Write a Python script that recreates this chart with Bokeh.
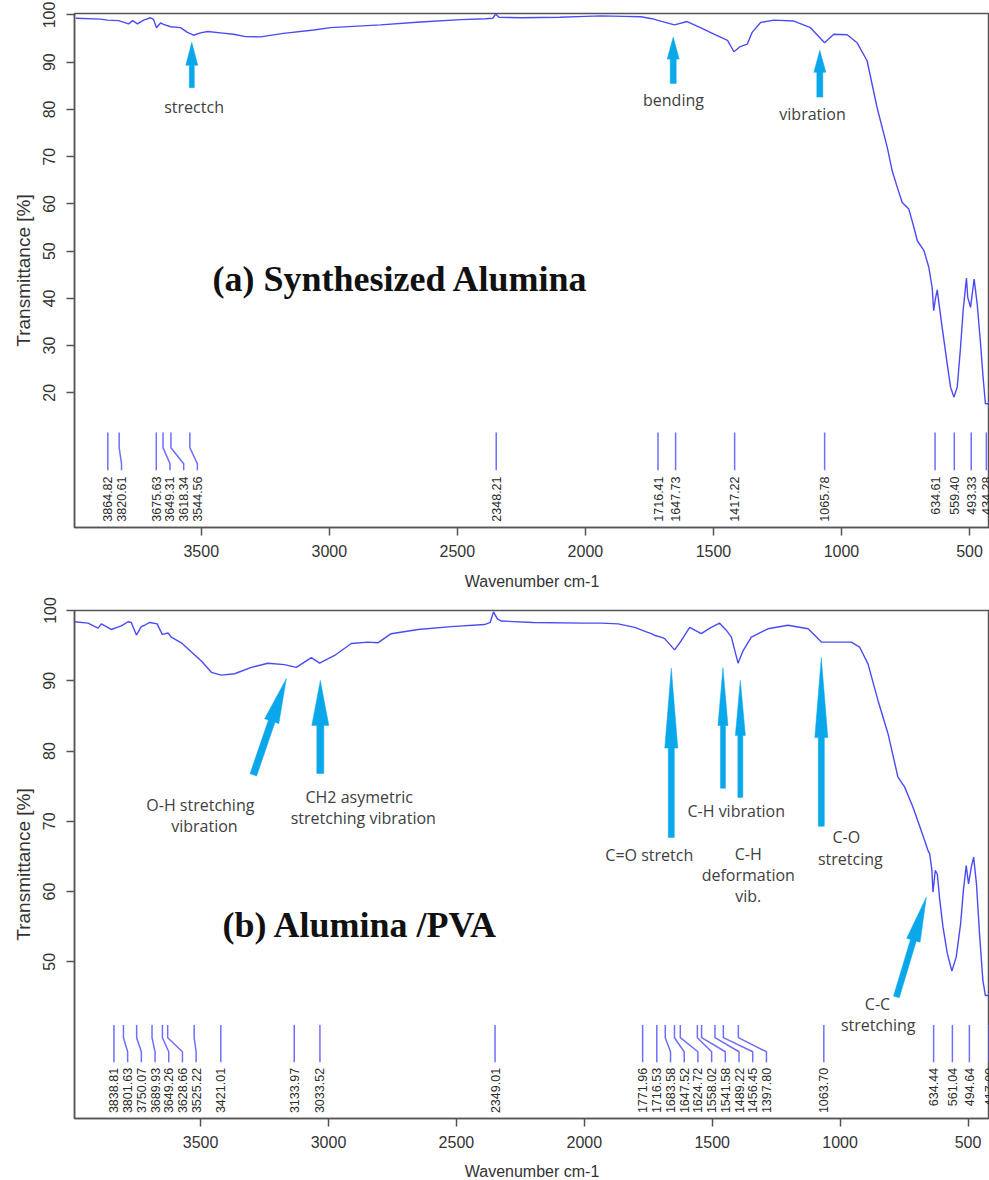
import math
from bokeh.plotting import figure
from bokeh.layouts import column
from bokeh.models import Range1d, FixedTicker, Title
from bokeh.core.properties import value
from bokeh.embed import file_html
from bokeh.resources import INLINE

# ---------------- data ----------------
a_wn = [3990, 3893, 3866, 3823, 3784, 3768, 3749, 3725, 3698, 3686, 3675, 3659, 3647, 3620,
        3581, 3554, 3530, 3503, 3475, 3425, 3374, 3327, 3268, 3179, 3061, 2995, 2800, 2644,
        2488, 2390, 2362, 2350, 2338, 2250, 2100, 2000, 1940, 1850, 1784, 1740, 1706, 1652,
        1603, 1551, 1500, 1445, 1420, 1395, 1368, 1349, 1316, 1264, 1186, 1121, 1066, 1030,
        978, 939, 900, 861, 821, 802, 782, 763, 737, 717, 704, 678, 659, 646, 640, 633, 626,
        620, 607, 587, 574, 561, 548, 535, 525, 512, 507, 496, 482, 470, 457, 447, 438, 422]
a_tr = [99.3, 99.1, 98.9, 98.8, 98.1, 98.8, 98.1, 98.9, 99.4, 99.0, 97.3, 98.3, 98.0, 97.5,
        97.3, 96.3, 95.7, 96.2, 96.5, 96.2, 95.9, 95.4, 95.35, 96.1, 96.8, 97.3, 97.9, 98.5,
        99.0, 99.2, 99.3, 100.2, 99.5, 99.4, 99.5, 99.7, 99.8, 99.7, 99.6, 99.2, 98.7, 97.9,
        98.6, 97.3, 96.0, 94.6, 92.2, 93.3, 93.8, 96.3, 98.4, 98.9, 98.7, 97.3, 94.1, 95.9,
        95.8, 94.1, 90.3, 80.4, 71.9, 67.0, 63.5, 60.3, 58.9, 55.0, 52.2, 50.1, 46.6, 42.3,
        37.4, 40.0, 41.8, 39.2, 33.9, 26.1, 21.2, 19.1, 21.2, 29.7, 37.4, 44.3, 40.2, 38.1,
        44.1, 38.8, 30.4, 23.3, 17.7, 17.7]

b_wn = [3992, 3940, 3901, 3888, 3849, 3810, 3784, 3771, 3751, 3732, 3719, 3699, 3670, 3650,
        3627, 3615, 3575, 3536, 3497, 3458, 3419, 3367, 3302, 3237, 3172, 3126, 3067, 3035,
        2976, 2911, 2846, 2807, 2755, 2650, 2520, 2390, 2368, 2355, 2340, 2324, 2200, 2000,
        1933, 1868, 1803, 1760, 1738, 1720, 1700, 1686, 1647, 1621, 1588, 1543, 1504, 1471,
        1445, 1425, 1399, 1379, 1347, 1282, 1204, 1125, 1073, 1021, 956, 924, 891, 852, 813,
        774, 748, 715, 683, 670, 657, 650, 641, 637, 628, 620, 611, 598, 581, 563, 546, 529,
        518, 507, 498, 487, 478, 467, 455, 442, 432, 413]
b_tr = [98.4, 98.2, 97.5, 98.1, 97.3, 97.8, 98.4, 98.3, 96.5, 97.7, 97.9, 98.3, 98.1, 96.6,
        96.8, 96.2, 95.4, 94.1, 92.8, 91.2, 90.8, 91.0, 91.9, 92.5, 92.3, 91.9, 93.3, 92.5,
        93.6, 95.3, 95.5, 95.4, 96.7, 97.3, 97.7, 98.0, 98.3, 99.8, 98.8, 98.5, 98.3, 98.2,
        98.2, 98.1, 97.6, 97.0, 96.7, 96.4, 96.2, 96.0, 94.4, 95.7, 97.6, 96.7, 97.6, 98.2,
        97.2, 96.2, 92.5, 94.3, 96.2, 97.4, 97.9, 97.4, 95.5, 95.5, 95.5, 94.8, 92.4, 87.2,
        82.5, 76.3, 74.9, 72.0, 68.7, 67.3, 65.9, 65.4, 63.0, 59.9, 63.0, 62.5, 59.0, 55.0,
        51.2, 48.7, 50.7, 55.4, 60.2, 63.7, 61.1, 63.5, 64.9, 61.1, 54.0, 47.4, 45.2, 45.2]

a_peaks = [3864.82, 3820.61, 3675.63, 3649.31, 3618.34, 3544.56, 2348.21, 1716.41, 1647.73,
           1417.22, 1065.78, 634.61, 559.40, 493.33, 434.28]
b_peaks = [3838.81, 3801.63, 3750.07, 3689.93, 3649.26, 3628.66, 3525.22, 3421.01, 3133.97,
           3033.52, 2349.01, 1771.96, 1716.53, 1683.58, 1647.52, 1624.72, 1558.02, 1541.58,
           1489.22, 1456.45, 1397.80, 1063.70, 634.44, 561.04, 494.64, 417.00]

x_ticks = [3500, 3000, 2500, 2000, 1500, 1000, 500]
a_yticks = [20, 30, 40, 50, 60, 70, 80, 90, 100]
b_yticks = [50, 60, 70, 80, 90, 100]
x_title = "Wavenumber cm-1"
y_title = "Transmittance [%]"

# annotations: (text, x, y)
a_notes = [("strectch", 3528, 80.6), ("bending", 1656, 81.9), ("vibration", 1113, 79.1)]
a_title = ("(a) Synthesized Alumina", 2722, 44.2)
# arrows: (x_tip, y_tip, x_tail, y_tail, head_len_px, head_w_px, shaft_w_px)
a_arrows = [(3537, 94.2, 3537, 84.6, 23, 12, 5),
            (1657, 95.3, 1657, 85.5, 22, 12, 6),
            (1084.5, 92.5, 1084.5, 82.6, 22, 12, 6)]

b_notes = [("O-H stretching", 3501, 72.3), ("vibration", 3485, 69.3),
           ("CH2 asymetric", 2880, 73.4), ("stretching vibration", 2864, 70.4),
           ("C=O stretch", 1746, 65.2), ("C-H vibration", 1406, 71.4),
           ("C-H", 1359, 65.3), ("deformation", 1359, 62.3), ("vib.", 1359, 59.35),
           ("C-O", 976, 67.7), ("stretcing", 960, 64.6),
           ("C-C", 854, 44.0), ("stretching", 851, 41.0)]
b_title = ("(b) Alumina /PVA", 2876, 55.2)
b_arrows = [(3165, 90.3, 3294, 76.6, 45, 15, 7),
            (3032, 90.05, 3032, 76.8, 45, 17, 7),
            (1660, 91.8, 1660, 67.7, 80, 13, 6),
            (1458, 91.9, 1458, 74.7, 58, 10, 5),
            (1390, 90.05, 1390, 73.4, 55, 10, 5),
            (1073.5, 93.3, 1073.5, 69.3, 80, 13, 6),
            (663, 59.2, 780, 45.0, 45, 14, 6)]

CURVE = "#4b4bf6"
PEAK = "#6e6eff"
ARROW = "#0aa8ea"
AXIS = "#555555"
TXT = "#333333"


def make_panel(wn, tr, peaks, yticks, xr, yr, fw, fh, borders, peak_y, lab_gap_px,
               notes, title, arrows, xlab_standoff, ylab_shift):
    top, bottom = borders
    p = figure(frame_width=fw, frame_height=fh, x_range=Range1d(*xr), y_range=Range1d(*yr),
               output_backend="svg", toolbar_location=None,
               min_border_left=74, min_border_right=0, min_border_top=top,
               min_border_bottom=bottom)
    p.background_fill_color = "white"
    p.border_fill_color = "white"
    p.outline_line_color = AXIS
    p.outline_line_width = 1.5
    p.xgrid.visible = False
    p.ygrid.visible = False

    kx = fw / (xr[0] - xr[1])   # px per wavenumber (to the right)
    ky = fh / (yr[1] - yr[0])   # px per % (upward)

    # spectrum
    p.line(wn, tr, line_color=CURVE, line_width=1.4)

    # peak markers with spread labels
    order = sorted(peaks, reverse=True)
    gap = lab_gap_px / kx
    labx = []
    prev = None
    for w in order:
        pos = w if prev is None else min(w, prev - gap)
        labx.append(pos)
        prev = pos
    y0, y1, y2, y3, ylab = peak_y
    xs = [[w, w, lx, lx] for w, lx in zip(order, labx)]
    ys = [[y0, y1, y2, y3] for _ in order]
    p.multi_line(xs, ys, line_color=PEAK, line_width=1.5)
    p.text(x=labx, y=[ylab] * len(order), text=["%.2f" % w for w in order],
           angle=math.pi / 2, text_align="right", text_baseline="middle",
           text_font=value("Liberation Sans"), text_font_size="12.5px", text_color="#2a2a2a")

    # note texts
    p.text(x=[n[1] for n in notes], y=[n[2] for n in notes], text=[n[0] for n in notes],
           text_align="center", text_baseline="middle", text_font=value("Open Sans"),
           text_font_size="16px", text_color="#404040")
    p.text(x=[title[1]], y=[title[2]], text=[title[0]], text_align="center",
           text_baseline="middle", text_font=value("Liberation Serif"),
           text_font_style="bold", text_font_size="36px", text_color="#111111")

    # arrows as polygons (built in pixel space, converted back to data)
    pxs, pys = [], []
    for (xt, yt, xb, yb, hl, hw, sw) in arrows:
        X1, Y1 = -xt * kx, yt * ky
        X0, Y0 = -xb * kx, yb * ky
        L = math.hypot(X1 - X0, Y1 - Y0)
        ux, uy = (X1 - X0) / L, (Y1 - Y0) / L
        nx, ny = -uy, ux
        NX, NY = X1 - ux * hl, Y1 - uy * hl
        pts = [(X0 + nx * sw / 2, Y0 + ny * sw / 2),
               (NX + nx * sw / 2, NY + ny * sw / 2),
               (NX + nx * hw / 2, NY + ny * hw / 2),
               (X1, Y1),
               (NX - nx * hw / 2, NY - ny * hw / 2),
               (NX - nx * sw / 2, NY - ny * sw / 2),
               (X0 - nx * sw / 2, Y0 - ny * sw / 2)]
        pxs.append([-q[0] / kx for q in pts])
        pys.append([q[1] / ky for q in pts])
    p.patches(pxs, pys, fill_color=ARROW, line_color=ARROW, line_width=0.5)

    # axes
    for ax in (p.xaxis[0], p.yaxis[0]):
        ax.axis_line_color = AXIS
        ax.axis_line_width = 1.5
        ax.major_tick_line_color = AXIS
        ax.major_tick_line_width = 1.5
        ax.major_tick_in = 0
        ax.major_tick_out = 8
        ax.minor_tick_line_color = None
        ax.major_label_text_font = "Liberation Sans"
        ax.major_label_text_font_size = "16px"
        ax.major_label_text_color = TXT
        ax.axis_label_text_font = "Liberation Sans"
        ax.axis_label_text_font_style = "normal"
        ax.axis_label_text_color = TXT
    p.xaxis.ticker = FixedTicker(ticks=x_ticks)
    p.xaxis.axis_label = x_title
    p.xaxis.axis_label_text_font_size = "16px"
    p.xaxis.major_label_standoff = 9
    p.xaxis.axis_label_standoff = xlab_standoff
    p.yaxis.ticker = FixedTicker(ticks=yticks)
    p.yaxis.major_label_orientation = "parallel"
    p.yaxis.major_label_standoff = 11

    # y-axis title as a side title (can be shifted along the axis)
    p.add_layout(Title(text=y_title, align="center", offset=ylab_shift, standoff=14,
                       text_font="Liberation Sans", text_font_size="19px",
                       text_font_style="normal", text_color=TXT), "left")
    return p


p1 = make_panel(a_wn, a_tr, a_peaks, a_yticks, (3995, 422), (-8.5, 100.3), 915, 514, (13, 65),
                (11.6, 8.4, 5.0, 3.6, 2.3), 13.7, a_notes, a_title, a_arrows, 13, 73)
p2 = make_panel(b_wn, b_tr, b_peaks, b_yticks, (3993, 416), (27.7, 100.0), 915, 508, (18, 62),
                (41.0, 39.2, 37.2, 35.7, 34.9), 13.7, b_notes, b_title, b_arrows, 12, 24)

layout = column(p1, p2, spacing=0)
open("out.html", "w").write(file_html(layout, INLINE))
